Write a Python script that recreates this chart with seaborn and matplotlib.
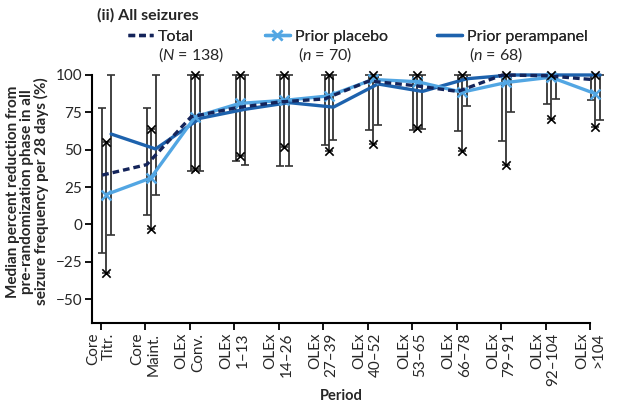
import matplotlib
matplotlib.use("Agg")
import matplotlib.pyplot as plt
import seaborn as sns
import numpy as np

# Periods (x categories)
periods = ["Core\nTitr.", "Core\nMaint.", "OLEx\nConv.", "OLEx\n1–13", "OLEx\n14–26",
           "OLEx\n27–39", "OLEx\n40–52", "OLEx\n53–65", "OLEx\n66–78", "OLEx\n79–91",
           "OLEx\n92–104", "OLEx\n>104"]

# Median percent reduction and error bar ranges
total = [33, 40, 72, 78, 82, 84, 96, 93, 89, 100, 99.5, 97]
total_lo = [-19, 6, 36, 42.5, 39, 53, 63, 63, 62.5, 56, 80.5, 83]
total_hi = [78, 78, 100, 100, 100, 100, 100, 100, 100, 100, 100, 100]

placebo = [20, 31, 72, 81, 83, 86, 97, 95.5, 88.5, 95, 98.5, 87.5]
placebo_lo = [-32.5, -3, 37, 45.5, 52, 49, 54, 64.5, 49, 39.5, 70.5, 65]
placebo_hi = [55, 64, 100, 100, 100, 100, 100, 100, 100, 100, 100, 100]

peramp = [60.5, 50.5, 71, 77, 81.5, 78.5, 94, 89, 97.5, 100, 100, 100]
peramp_lo = [-7, 20, 36, 39.5, 39, 56.5, 66.5, 64, 79, 75, 84, 70]
peramp_hi = [100, 100, 100, 100, 100, 100, 100, 100, 100, 100, 100, 100]

sns.set_theme(style="ticks")
plt.rcParams['font.family'] = ['Lato', 'DejaVu Sans']
plt.rcParams['mathtext.fontset'] = 'custom'
plt.rcParams['mathtext.it'] = 'Lato:italic'
plt.rcParams['mathtext.rm'] = 'Lato'

c_total = '#14245a'
c_plac = '#52a6e3'
c_peram = '#1d62ad'
c_err = '#333333'

fig = plt.figure(figsize=(6.32, 4.08), dpi=100)
ax = fig.add_axes([92 / 632, 1 - 323 / 408, 498 / 632, 248 / 408])

x = np.arange(len(periods))
x_total = x + 0.03
x_plac = x + 0.12
x_peram = x + 0.23


def draw_err(xs, ys, lo, hi):
    ys = np.array(ys, dtype=float)
    yerr = [ys - np.array(lo), np.array(hi) - ys]
    ax.errorbar(xs, ys, yerr=yerr, fmt='none', ecolor=c_err, elinewidth=1.3,
                capsize=3, capthick=1.2, zorder=2, clip_on=False)


draw_err(x_total, total, total_lo, total_hi)
draw_err(x_plac, placebo, placebo_lo, placebo_hi)
draw_err(x_peram, peramp, peramp_lo, peramp_hi)

# X end markers on the placebo error bars
ax.scatter(np.concatenate([x_plac, x_plac]), placebo_lo + placebo_hi, marker='x',
           color='black', s=36, linewidths=1.2, zorder=5, clip_on=False)

sns.lineplot(x=x_peram, y=peramp, ax=ax, color=c_peram, linewidth=2.4, zorder=3,
             sort=False, clip_on=False)
sns.lineplot(x=x_plac, y=placebo, ax=ax, color=c_plac, linewidth=2.4, marker='x',
             markersize=7, markeredgewidth=1.8, markeredgecolor=c_plac, zorder=3,
             sort=False, clip_on=False)
sns.lineplot(x=x_total, y=total, ax=ax, color=c_total, linewidth=2.4,
             linestyle=(0, (2, 1.2)), zorder=4, sort=False, clip_on=False)

ax.set_xlim(-0.2, 11)
ax.set_ylim(-66, 100)
ax.set_yticks([-50, -25, 0, 25, 50, 75, 100])
ax.set_xticks(x)
ax.set_xticklabels(periods, rotation=90, ha='center', va='top', multialignment='right',
                   fontsize=11)
ax.tick_params(axis='y', labelsize=11)
ax.tick_params(direction='out', length=5, width=1.3, color='black', pad=2)
for s in ['top', 'right']:
    ax.spines[s].set_visible(False)
for s in ['left', 'bottom']:
    ax.spines[s].set_linewidth(1.5)
    ax.spines[s].set_color('black')

ax.set_xlabel("Period", fontweight='bold', fontsize=10.5)
ax.set_ylabel("Median percent reduction from\npre-randomization phase in all\n"
              "seizure frequency per 28 days (%)", fontweight='bold', fontsize=11,
              linespacing=1.0)
ax.yaxis.set_label_coords(-0.086, 0.53)
ax.xaxis.set_label_coords(0.5, -0.265)

# Title and legend
fig.text(97 / 632, 1 - 15 / 408, "(ii) All seizures", fontweight='bold', fontsize=11.5,
         va='center', ha='left')

entries = [
    (ax.lines[-1], "Total", "($\\it{N}$ = 138)", 128, 158),
    (ax.lines[-2], "Prior placebo", "($\\it{n}$ = 70)", 265, 298),
    (ax.lines[-3], "Prior perampanel", "($\\it{n}$ = 68)", 437, 469),
]
for h, lab, sub, hx, tx in entries:
    leg = fig.legend(handles=[h], labels=[lab], loc='center left',
                     bbox_to_anchor=(hx / 632, 1 - 37 / 408), frameon=False,
                     borderpad=0, borderaxespad=0, handlelength=1.55,
                     handletextpad=0.3, fontsize=11.5)
    fig.add_artist(leg)
    fig.text(tx / 632, 1 - 55 / 408, sub, fontsize=11.5, va='center', ha='left')

fig.savefig("out.png", dpi=100)
